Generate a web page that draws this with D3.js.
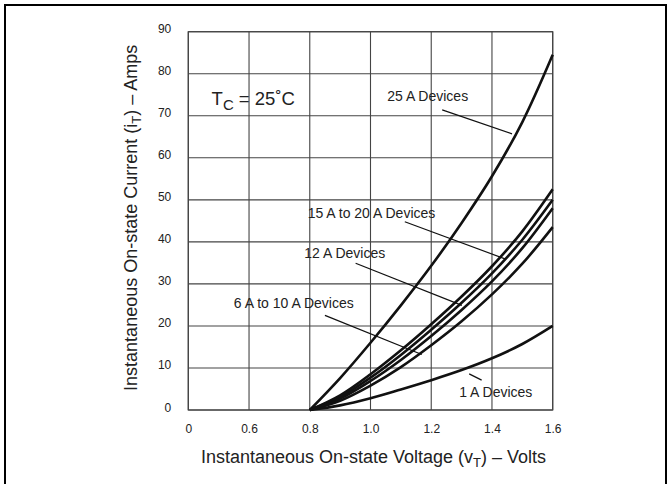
<!DOCTYPE html>
<html>
<head>
<meta charset="utf-8">
<script src="https://cdn.jsdelivr.net/npm/d3@7"></script>
<style>
  body { margin: 0; background: #fff; }
  svg { display: block; font-family: "Liberation Sans", Arial, sans-serif; }
</style>
</head>
<body>
<script>
// Valeurs (tension en V, courant en A)
const voltage = [0.8, 0.9, 1.0, 1.1, 1.2, 1.3, 1.4, 1.5, 1.6];
const amps25 = [0, 7.6, 16, 24.9, 34.3, 44.5, 55.6, 68.5, 84.5];
const amps15to20a = [0, 3.5, 8.5, 14.2, 20.4, 27, 34.2, 42.5, 52.5];
const amps15to20b = [0, 3.1, 7.7, 13.1, 19.1, 25.5, 32.5, 40.5, 50];
const amps12 = [0, 2.7, 6.9, 11.9, 17.6, 23.8, 30.6, 38.5, 48];
const amps6to10 = [0, 2.2, 5.8, 10.2, 15.4, 21.1, 27.5, 34.8, 43.5];
const amps1 = [0, 1.1, 2.8, 4.9, 7.1, 9.5, 12.3, 15.7, 20];

const xTicks = [0, 0.6, 0.8, 1.0, 1.2, 1.4, 1.6];
const xTickLabels = ["0", "0.6", "0.8", "1.0", "1.2", "1.4", "1.6"];
const yTicks = [0, 10, 20, 30, 40, 50, 60, 70, 80, 90];

const series = [amps25, amps15to20a, amps15to20b, amps12, amps6to10, amps1];

// annotations: texte + trait de rappel, en unités des données
const notes = [
  {text: "25 A Devices", at: [1.055, 73.5], from: [1.236, 71.4], to: [1.466, 65.7]},
  {text: "15 A to 20 A Devices", at: [0.793, 45.6], from: [1.113, 44.8], to: [1.445, 35.9]},
  {text: "12 A Devices", at: [0.782, 36.1], from: [0.951, 34.9], to: [1.301, 24.9]},
  {text: "6 A to 10 A Devices", at: [0.45, 24.2], from: [0.85, 22.5], to: [1.169, 13.2]},
  {text: "1 A Devices", at: [1.292, 3.2], from: [1.325, 8.6], to: [1.366, 7.1]}
];

const W = 672, H = 484;
const margin = {top: 31.7, right: 119.3, bottom: 74, left: 188.3};
const width = W - margin.left - margin.right,
      height = H - margin.top - margin.bottom;

const root = d3.select("body").append("svg")
    .attr("width", W)
    .attr("height", H);

// cadre extérieur
root.append("rect")
    .attr("x", 5).attr("y", 5)
    .attr("width", 661).attr("height", 500)
    .attr("fill", "none")
    .attr("stroke", "#000")
    .attr("stroke-width", 2);

const svg = root.append("g")
    .attr("transform", "translate(" + margin.left + "," + margin.top + ")");

// axe X cassé : 0 -> 0.6 prend la place d'un pas de 0.2
const x = d3.scaleLinear()
    .domain([0, 0.6, 1.6])
    .range([0, width / 6, width]);

const y = d3.scaleLinear()
    .domain([0, 90])
    .range([height, 0]);

// grille
svg.append("g")
    .selectAll("line")
    .data(xTicks)
    .join("line")
    .attr("x1", d => x(d)).attr("x2", d => x(d))
    .attr("y1", 0).attr("y2", height)
    .attr("stroke", "#444")
    .attr("stroke-width", 1.1);

svg.append("g")
    .selectAll("line")
    .data(yTicks)
    .join("line")
    .attr("x1", 0).attr("x2", width)
    .attr("y1", d => y(d)).attr("y2", d => y(d))
    .attr("stroke", "#444")
    .attr("stroke-width", 1.1);

svg.append("rect")
    .attr("width", width).attr("height", height)
    .attr("fill", "none")
    .attr("stroke", "#444")
    .attr("stroke-width", 1.2);

// axes (seulement les libellés)
const xAxis = svg.append("g")
    .attr("transform", "translate(0," + height + ")")
    .call(d3.axisBottom(x).tickValues(xTicks).tickFormat((d, i) => xTickLabels[i]).tickSize(0).tickPadding(0));
xAxis.select(".domain").remove();
xAxis.selectAll("text")
    .attr("dy", 0)
    .attr("y", 23)
    .attr("font-size", 12)
    .attr("fill", "#222");

const yAxis = svg.append("g")
    .call(d3.axisLeft(y).tickValues(yTicks).tickSize(0).tickPadding(0));
yAxis.select(".domain").remove();
yAxis.selectAll("text")
    .attr("dy", 1)
    .attr("x", -17)
    .attr("font-size", 12)
    .attr("fill", "#222");

// courbes
const line = d3.line()
    .x((d, i) => x(voltage[i]))
    .y(d => y(d))
    .curve(d3.curveCatmullRom.alpha(0.5));

svg.append("g")
    .selectAll("path")
    .data(series)
    .join("path")
    .attr("d", line)
    .attr("fill", "none")
    .attr("stroke", "#111")
    .attr("stroke-width", 2.6)
    .attr("stroke-linejoin", "round");

// annotations
const ann = svg.append("g");
ann.selectAll("line")
    .data(notes)
    .join("line")
    .attr("x1", d => x(d.from[0])).attr("y1", d => y(d.from[1]))
    .attr("x2", d => x(d.to[0])).attr("y2", d => y(d.to[1]))
    .attr("stroke", "#111")
    .attr("stroke-width", 1.2);

ann.selectAll("text")
    .data(notes)
    .join("text")
    .attr("x", d => x(d.at[0]))
    .attr("y", d => y(d.at[1]))
    .attr("font-size", 14)
    .attr("fill", "#222")
    .text(d => d.text);

// T_C = 25˚C
const tc = svg.append("text")
    .attr("x", x(0.23))
    .attr("y", y(72.6))
    .attr("font-size", 18.5)
    .attr("fill", "#222");
tc.append("tspan").text("T");
tc.append("tspan").attr("font-size", 15).attr("dy", 5).text("C");
tc.append("tspan").attr("dy", -5).text(" = 25˚C");

// titres des axes
const xt = root.append("text")
    .attr("x", margin.left + width / 2 + 3)
    .attr("y", 463)
    .attr("text-anchor", "middle")
    .attr("font-size", 18)
    .attr("fill", "#222");
xt.append("tspan").text("Instantaneous On-state Voltage (v");
xt.append("tspan").attr("font-size", 13).attr("dy", 4).text("T");
xt.append("tspan").attr("dy", -4).text(") – Volts");

const yt = root.append("text")
    .attr("transform", "translate(137," + (margin.top + height / 2 - 3) + ") rotate(-90)")
    .attr("text-anchor", "middle")
    .attr("font-size", 18)
    .attr("fill", "#222");
yt.append("tspan").text("Instantaneous On-state Current (i");
yt.append("tspan").attr("font-size", 13).attr("dy", 4).text("T");
yt.append("tspan").attr("dy", -4).text(") – Amps");
</script>
</body>
</html>
